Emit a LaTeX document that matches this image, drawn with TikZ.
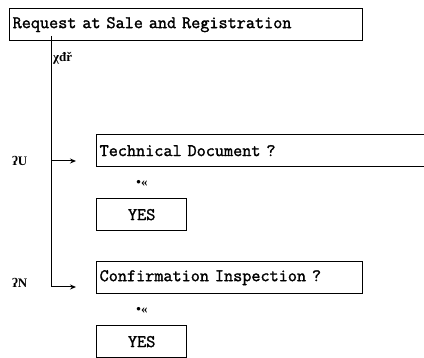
\documentclass[tikz,border=0pt]{standalone}
\usepackage{fontspec}
\newfontfamily\boxfont[FakeBold=1.6]{Latin Modern Mono}
\newfontfamily\markfont{Liberation Serif}
\usetikzlibrary{arrows.meta,positioning}

\begin{document}
\begin{tikzpicture}[
    x=1pt, y=-1pt,
    box/.style={rectangle, draw=black, line width=1.3pt, minimum height=32pt,
                inner xsep=3pt, inner ysep=0pt, align=left,
                font=\boxfont\fontsize{17.7}{20}\selectfont},
    yesbox/.style={rectangle, draw=black, line width=1.3pt, minimum width=90pt,
                minimum height=32pt, inner sep=0pt,
                font=\boxfont\fontsize{17.7}{20}\selectfont},
    glyph/.style={inner sep=0pt, font=\markfont\bfseries\fontsize{13}{15}\selectfont},
    arrow/.style={-{Stealth[length=6pt,width=5pt]}, line width=1pt}
]
  \useasboundingbox (0,0) rectangle (424,358);
  \clip (0,0) rectangle (424,358);

  % Request
  \node[box, anchor=north west, text width=347pt] (req) at (9,8)
       {Request at Sale and Registration};
  \node[glyph, anchor=west] (req-note) at (53,58) {χđř};

  % Technical Document
  \node[box, anchor=north west, text width=344pt] (tech) at (96,134)
       {Technical Document ?};
  \node[glyph, anchor=west] (tech-lbl) at (12,161) {ʔU};
  \node[glyph] (tech-mark) at (142,183) {•«};
  \node[yesbox, anchor=north west] (tech-yes) at (96,198) {YES};

  % Confirmation Inspection
  \node[box, anchor=north west, text width=260pt] (conf) at (96,261)
       {Confirmation Inspection ?};
  \node[glyph, anchor=west] (conf-lbl) at (12,283) {ʔN};
  \node[glyph] (conf-mark) at (142,310) {•«};
  \node[yesbox, anchor=north west] (conf-yes) at (96,325) {YES};

  % Arrows
  \coordinate (trunk) at (51,36);
  \coordinate (tech-in) at (76,161);
  \coordinate (conf-in) at (76,287);
  \draw[line width=1pt] (trunk) -- (trunk |- conf-in);
  \draw[arrow] (trunk |- tech-in) -- (tech-in);
  \draw[arrow] (trunk |- conf-in) -- (conf-in);

\end{tikzpicture}
\end{document}
